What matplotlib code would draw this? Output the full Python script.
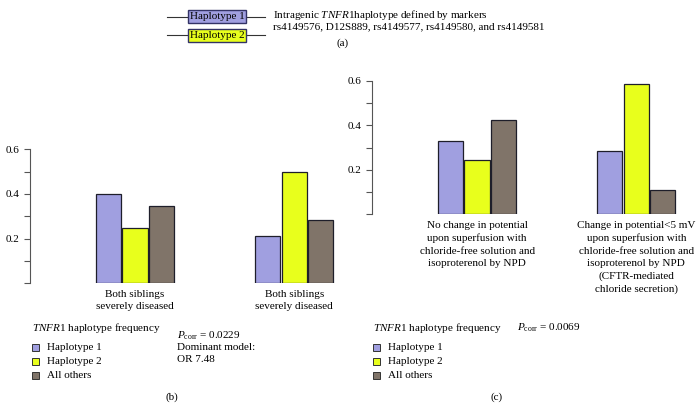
import matplotlib
matplotlib.use("Agg")
import matplotlib.pyplot as plt
import numpy as np
from matplotlib.patches import Rectangle
from matplotlib.lines import Line2D

plt.rcParams["font.family"] = ["Liberation Serif", "DejaVu Serif"]
plt.rcParams["mathtext.fontset"] = "custom"
plt.rcParams["mathtext.rm"] = "Liberation Serif"
plt.rcParams["mathtext.it"] = "Liberation Serif:italic"

# data
series = ["Haplotype 1", "Haplotype 2", "All others"]
colors = ["#a09fe0", "#e8ff1c", "#807469"]
groups_b = ["Both siblings\nseverely diseased", "Both siblings\nseverely diseased"]
values_b = [[0.398, 0.213], [0.246, 0.500], [0.348, 0.282]]
groups_c = [
    "No change in potential\nupon superfusion with\nchloride-free solution and\nisoproterenol by NPD",
    "Change in potential<5 mV\nupon superfusion with\nchloride-free solution and\nisoproterenol by NPD\n(CFTR-mediated\nchloride secretion)",
]
values_c = [[0.327, 0.284], [0.246, 0.584], [0.425, 0.107]]
yticks = [0, 0.1, 0.2, 0.3, 0.4, 0.5, 0.6]
ytick_labels = ["", "", "0.2", "", "0.4", "", "0.6"]

W, H = 700, 408
FS = 8


def fx(px):
    return px / W


def fy(py):
    return 1 - py / H


def bar_panel(fig, rect_px, groups, values):
    l, t, r, b = rect_px
    ax = fig.add_axes([fx(l), fy(b), (r - l) / W, (b - t) / H])
    x = np.arange(len(groups))
    w = 0.158
    for i, (name, col) in enumerate(zip(series, colors)):
        ax.bar(x + (i - 1) * (w + 0.008), values[i], width=w, color=col,
               edgecolor="#1e1e2a", linewidth=0.9, zorder=3)
    ax.set_xlim(-0.66, 1.35)
    ax.set_ylim(0, 0.6)
    ax.set_yticks(yticks)
    ax.set_yticklabels(ytick_labels, fontsize=FS)
    ax.set_xticks(x)
    ax.set_xticklabels(groups, fontsize=FS, linespacing=1.45, va="top")
    ax.tick_params(axis="x", length=0, pad=5)
    ax.tick_params(axis="y", length=4.5, width=0.8, color="#555555", pad=3)
    for s in ["top", "right", "bottom"]:
        ax.spines[s].set_visible(False)
    ax.spines["left"].set_color("#555555")
    ax.spines["left"].set_linewidth(0.8)
    return ax


def legend_block(fig, x0, y_title):
    fig.text(fx(x0), fy(y_title), r"$\mathit{TNFR1}$ haplotype frequency",
             fontsize=FS, va="center", ha="left")
    for i, (name, col) in enumerate(zip(series, colors)):
        yc = y_title + 19 + i * 14
        fig.add_artist(Rectangle((fx(x0), fy(yc + 3.5)), 7 / W, 7 / H,
                                 facecolor=col, edgecolor="#333333", linewidth=0.7,
                                 transform=fig.transFigure))
        fig.text(fx(x0 + 15), fy(yc), name, fontsize=FS, va="center", ha="left")


fig = plt.figure(figsize=(7, 4.08), dpi=100)

# panel (a): haplotype diagram
for yc, name, col in [(16.5, "Haplotype 1", colors[0]), (35, "Haplotype 2", colors[1])]:
    fig.add_artist(Line2D([fx(167), fx(265)], [fy(yc), fy(yc)], color="#333333",
                          linewidth=0.8, transform=fig.transFigure))
    fig.add_artist(Rectangle((fx(188), fy(yc + 6.5)), 58 / W, 13 / H, facecolor=col,
                             edgecolor="#333366", linewidth=1.0,
                             transform=fig.transFigure, zorder=3))
    fig.text(fx(217), fy(yc), name, fontsize=FS, ha="center", va="center", zorder=4)
fig.text(fx(273), fy(15), r"Intragenic $\mathit{TNFR1}$haplotype defined by markers",
         fontsize=FS, va="center", ha="left")
fig.text(fx(273), fy(27), "rs4149576, D12S889, rs4149577, rs4149580, and rs4149581",
         fontsize=FS, va="center", ha="left")
fig.text(fx(343), fy(43), "(a)", fontsize=FS, ha="center", va="center")

# panel (b)
bar_panel(fig, (30, 149.3, 350, 283.3), groups_b, values_b)
legend_block(fig, 32, 328)
fig.text(fx(177), fy(336), r"$P_{\mathrm{corr}}$ = 0.0229", fontsize=FS, va="center")
fig.text(fx(177), fy(348), "Dominant model:", fontsize=FS, va="center")
fig.text(fx(177), fy(359), "OR 7.48", fontsize=FS, va="center")
fig.text(fx(172), fy(397), "(b)", fontsize=FS, ha="center", va="center")

# panel (c)
bar_panel(fig, (372, 80.7, 692, 214.3), groups_c, values_c)
legend_block(fig, 373, 328)
fig.text(fx(517), fy(328), r"$P_{\mathrm{corr}}$ = 0.0069", fontsize=FS, va="center")
fig.text(fx(497), fy(397), "(c)", fontsize=FS, ha="center", va="center")

fig.savefig("out.png", dpi=100)
